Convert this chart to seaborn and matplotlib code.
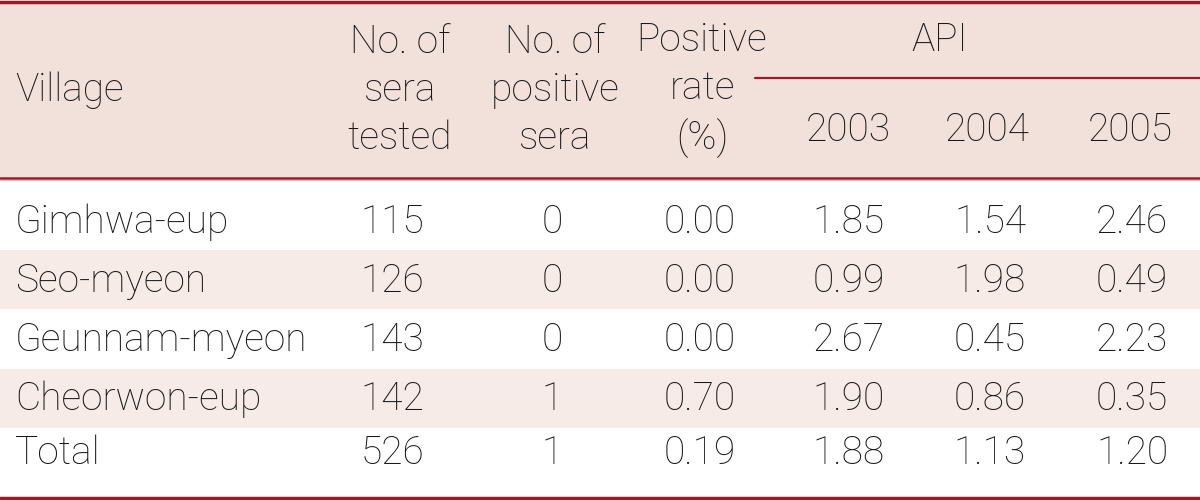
import seaborn as sns
import matplotlib.pyplot as plt

villages = ["Gimhwa-eup", "Seo-myeon", "Geunnam-myeon", "Cheorwon-eup", "Total"]
sera_tested = [115, 126, 143, 142, 526]
positive_sera = [0, 0, 0, 1, 1]
positive_rate = [0.00, 0.00, 0.00, 0.70, 0.19]
api_2003 = [1.85, 0.99, 2.67, 1.90, 1.88]
api_2004 = [1.54, 1.98, 0.45, 0.86, 1.13]
api_2005 = [2.46, 0.49, 2.23, 0.35, 1.20]
years = ["2003", "2004", "2005"]

sns.set_theme(style="white")
plt.rcParams['font.family'] = ['Roboto', 'DejaVu Sans']

red = "#9b1b2a"
head_bg = "#f2e0da"
stripe_bg = "#f6ebe6"
txt = "#1a1718"
fs = 28
fw = "light"

fig = plt.figure(figsize=(12, 5.01), dpi=100)
ax = fig.add_axes([0, 0, 1, 1])
ax.set_xlim(0, 1200)
ax.set_ylim(501, 0)
ax.axis("off")

# header block
ax.axhspan(1, 178, color=head_bg, lw=0)
ax.axhline(1.5, color=red, lw=2.5)
ax.axhline(178, color=red, lw=1.8)
ax.axhline(180, color="#e8b4b8", lw=0.8)
ax.plot([755, 1200], [78, 78], color=red, lw=1.6)

ax.text(15, 90, "Village", ha="left", va="center", fontsize=fs, color=txt,
        fontweight=fw)
heads = [(400, "No. of\nsera\ntested"), (555, "No. of\npositive\nsera"),
         (702, "Positive\nrate\n(%)")]
for x, s in heads:
    ax.text(x, 90, s, ha="center", va="center", fontsize=fs, color=txt,
            linespacing=1.35, fontweight=fw)
ax.text(940, 40, "API", ha="center", va="center", fontsize=fs, color=txt,
        fontweight=fw)
year_x = [848, 987, 1130]
for x, y in zip(year_x, years):
    ax.text(x, 130, y, ha="center", va="center", fontsize=fs, color=txt,
            fontweight=fw)

# body rows
row_top = [180, 250, 309, 369, 428]
row_bot = [250, 309, 369, 428, 497]
text_y = [222, 281, 340, 399, 453]
for i in range(len(villages)):
    if i % 2 == 1:
        ax.axhspan(row_top[i], row_bot[i], color=stripe_bg, lw=0)
    y = text_y[i]
    ax.text(15, y, villages[i], ha="left", va="center", fontsize=fs, color=txt,
            fontweight=fw)
    cells = [(392, f"{sera_tested[i]}"), (552, f"{positive_sera[i]}"),
             (700, f"{positive_rate[i]:.2f}"), (849, f"{api_2003[i]:.2f}"),
             (990, f"{api_2004[i]:.2f}"), (1132, f"{api_2005[i]:.2f}")]
    for x, s in cells:
        ax.text(x, y, s, ha="center", va="center", fontsize=fs, color=txt,
                fontweight=fw)

ax.axhline(498, color=red, lw=2.5)

fig.savefig("out.png", dpi=100)
